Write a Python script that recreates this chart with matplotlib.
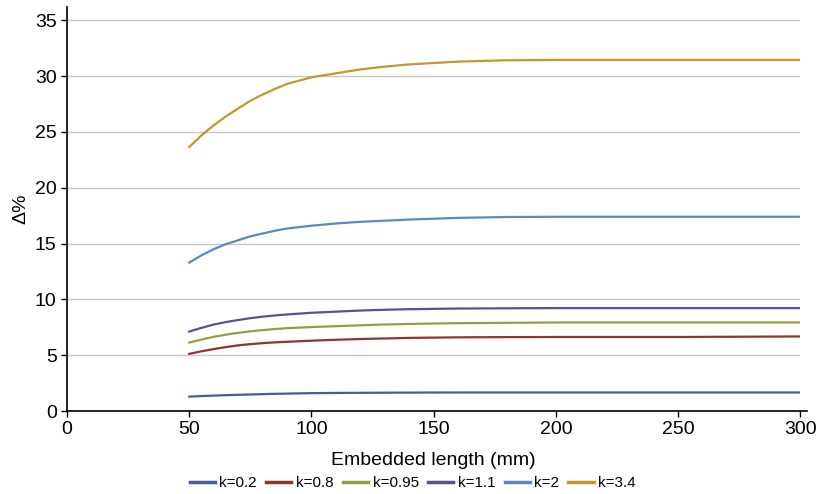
import matplotlib
matplotlib.use("Agg")
import matplotlib.pyplot as plt

plt.rcParams['font.family'] = ['Liberation Sans', 'DejaVu Sans']

# embedded length (mm)
length = [50, 55, 60, 65, 70, 75, 80, 85, 90, 100, 110, 120, 130, 140, 160, 180, 200, 250, 300]

# delta % for each k
d_k02 = [1.29, 1.34, 1.38, 1.42, 1.45, 1.48, 1.51, 1.54, 1.56, 1.60, 1.62, 1.63, 1.64,
         1.65, 1.66, 1.66, 1.66, 1.66, 1.66]
d_k08 = [5.12, 5.35, 5.55, 5.73, 5.88, 5.99, 6.08, 6.15, 6.20, 6.30, 6.38, 6.45, 6.50,
         6.55, 6.60, 6.62, 6.63, 6.63, 6.68]
d_k095 = [6.13, 6.40, 6.65, 6.84, 7.00, 7.14, 7.25, 7.34, 7.42, 7.52, 7.60, 7.68, 7.75,
          7.80, 7.87, 7.90, 7.93, 7.93, 7.93]
d_k11 = [7.12, 7.45, 7.75, 7.97, 8.15, 8.32, 8.45, 8.56, 8.65, 8.80, 8.90, 9.00, 9.07,
         9.12, 9.18, 9.20, 9.22, 9.22, 9.22]
d_k2 = [13.3, 13.95, 14.5, 14.95, 15.3, 15.65, 15.9, 16.15, 16.35, 16.6, 16.8, 16.95, 17.05,
        17.15, 17.3, 17.38, 17.4, 17.4, 17.4]
d_k34 = [23.65, 24.7, 25.6, 26.4, 27.1, 27.8, 28.35, 28.85, 29.3, 29.9, 30.25, 30.6, 30.85,
         31.05, 31.3, 31.42, 31.45, 31.45, 31.45]

labels = ['k=0.2', 'k=0.8', 'k=0.95', 'k=1.1', 'k=2', 'k=3.4']
colors = ['#4A5A9E', '#8E3434', '#8FA040', '#5A4F90', '#5B87C5', '#C8942E']
series = [d_k02, d_k08, d_k095, d_k11, d_k2, d_k34]

fig = plt.figure(figsize=(8.19, 4.94), dpi=100)
ax = fig.add_axes([0.082, 0.168, 0.895, 0.818])

for vals, lab, col in zip(series, labels, colors):
    ax.plot(length, vals, color=col, linewidth=1.6, label=lab)

ax.set_xlim(0, 300)
ax.set_ylim(0, 36.2)
ax.set_xticks([0, 50, 100, 150, 200, 250, 300])
ax.set_yticks([0, 5, 10, 15, 20, 25, 30, 35])
ax.yaxis.grid(True, color='#C8C8C8', linewidth=1.0)
ax.set_axisbelow(True)

for side in ['top', 'right']:
    ax.spines[side].set_visible(False)
for side in ['left', 'bottom']:
    ax.spines[side].set_color('black')
    ax.spines[side].set_linewidth(1.2)
# bottom axis runs a little past the last tick, like the original
ax.spines['bottom'].set_bounds(0, 303)

ax.tick_params(axis='both', labelsize=14, direction='out', length=4, width=1)
ax.set_xlabel('Embedded length (mm)', fontsize=14, labelpad=10)
ax.set_ylabel('Δ%', fontsize=14, labelpad=4)

leg = fig.legend(loc='center', bbox_to_anchor=(0.504, 0.022), ncol=6, frameon=False,
                 fontsize=11, handlelength=1.65, handletextpad=0.3, columnspacing=0.6,
                 borderpad=0.1)
for h in leg.legend_handles:
    h.set_linewidth(2.5)

fig.savefig('out.png', dpi=100)
